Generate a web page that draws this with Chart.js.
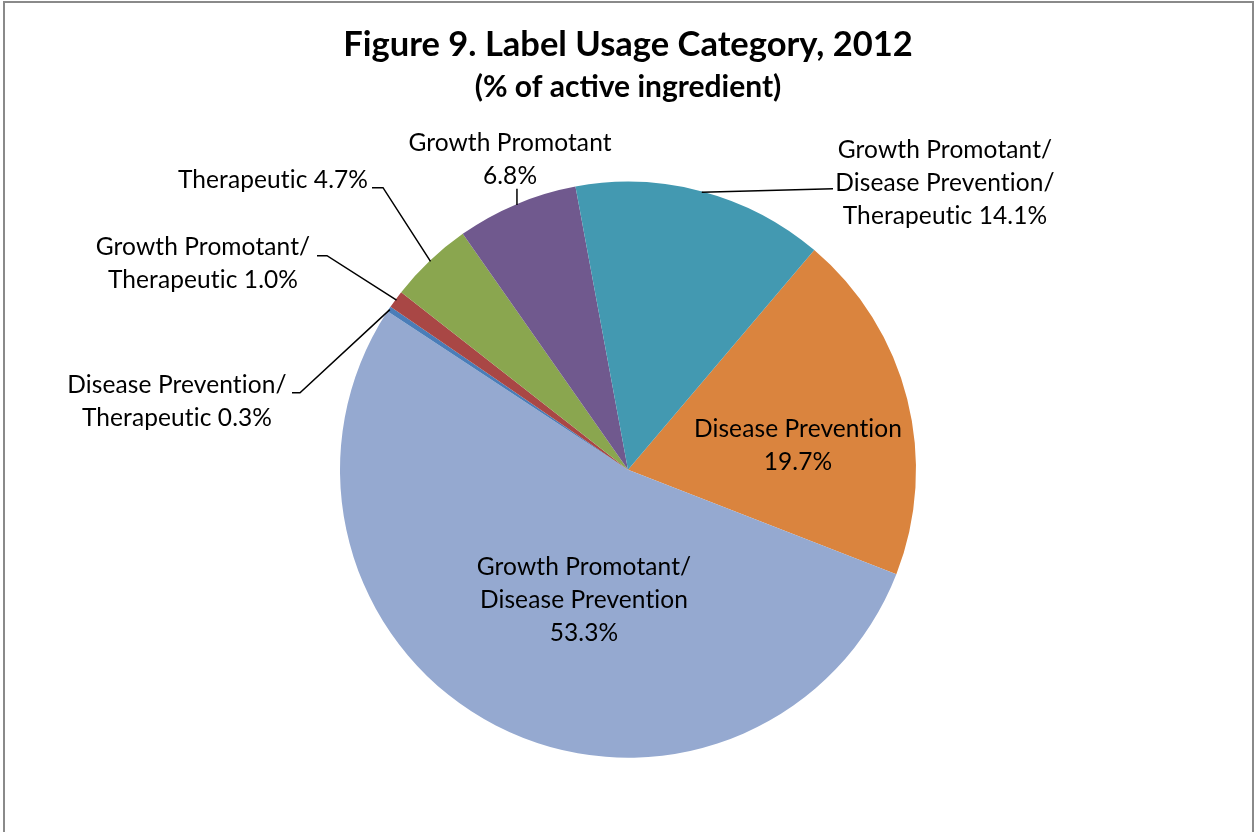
<!DOCTYPE html>
<html>
<head>
<meta charset="utf-8">
<title>Label Usage Category, 2012</title>
<script src="https://cdn.jsdelivr.net/npm/chart.js@4.4.1/dist/chart.umd.min.js"></script>
<style>
  html, body { margin: 0; padding: 0; background: #fff; overflow: hidden; }
  #frame {
    position: absolute; left: 3px; top: 1px; width: 1251px; height: 880px;
    border: 2px solid #8a8a8a; box-sizing: border-box;
  }
  #chart { position: absolute; left: 0; top: 0; }
</style>
</head>
<body>
<div id="frame"></div>
<canvas id="chart" width="1254" height="832"></canvas>
<script>
// ─── Data ─── //
const categories = [
  'Disease Prevention',
  'Growth Promotant/Disease Prevention',
  'Disease Prevention/Therapeutic',
  'Growth Promotant/Therapeutic',
  'Therapeutic',
  'Growth Promotant',
  'Growth Promotant/Disease Prevention/Therapeutic',
];
const shares = [19.7, 53.3, 0.3, 1.0, 4.7, 6.8, 14.1];
const sliceColors = ['#da843e', '#95a9d0', '#4a7db8', '#a94745', '#8aa64f', '#70598e', '#4399b1'];

const FONT = 'Lato, "Open Sans", sans-serif';
const LINE_GAP = 33;

// Label placement, in px relative to the pie centre.
// x = text centre, y = first line centre; leader = points after the arc midpoint
// (null x means "straight up/down from the arc point").
const labelLayout = [
  { x: 170,  y: -41,  ownLine: true },
  { x: -44,  y: 97,   ownLine: true },
  { x: -451, y: -85,  ownLine: false, leader: [[-328, -77], [-336, -77]] },
  { x: -425, y: -223, ownLine: false, leader: [[-301, -214], [-311, -214]] },
  { x: -355, y: -290, ownLine: false, leader: [[-245, -282], [-256, -282]] },
  { x: -118, y: -327, ownLine: true,  leader: [[null, -281]] },
  { x: 317,  y: -320, ownLine: false, leader: [[205, -281]] },
];

// Split a category at its slashes (keeping them) and attach the value
function labelLines(i) {
  const parts = categories[i].split('/').map((p, k, arr) => k < arr.length - 1 ? p + '/' : p);
  const value = shares[i].toFixed(1) + '%';
  if (labelLayout[i].ownLine) return [...parts, value];
  parts[parts.length - 1] += ' ' + value;
  return parts;
}

// ─── Callout labels + leader lines ─── //
const calloutPlugin = {
  id: 'callouts',
  afterDatasetsDraw(chart) {
    const ctx = chart.ctx;
    const arcs = chart.getDatasetMeta(0).data;
    ctx.save();
    ctx.font = `24.5px ${FONT}`;
    ctx.letterSpacing = '0.1px'; // keeps "ti" from turning into a ligature
    ctx.fillStyle = '#000';
    ctx.strokeStyle = '#000';
    ctx.lineWidth = 1.5;
    ctx.textAlign = 'center';
    ctx.textBaseline = 'middle';
    arcs.forEach((arc, i) => {
      const spec = labelLayout[i];
      const { x: cx, y: cy, startAngle, endAngle, outerRadius } =
        arc.getProps(['x', 'y', 'startAngle', 'endAngle', 'outerRadius'], true);
      if (spec.leader) {
        const mid = (startAngle + endAngle) / 2;
        const px = cx + Math.cos(mid) * (outerRadius - 1);
        const py = cy + Math.sin(mid) * (outerRadius - 1);
        ctx.beginPath();
        ctx.moveTo(px, py);
        spec.leader.forEach(([dx, dy]) => ctx.lineTo(dx === null ? px : cx + dx, cy + dy));
        ctx.stroke();
      }
      labelLines(i).forEach((line, k) => {
        ctx.fillText(line, cx + spec.x, cy + spec.y + k * LINE_GAP);
      });
    });
    ctx.restore();
  }
};

new Chart(document.getElementById('chart'), {
  type: 'pie',
  data: {
    labels: categories,
    datasets: [{
      data: shares,
      backgroundColor: sliceColors,
      borderWidth: 0,
    }]
  },
  options: {
    responsive: false,
    animation: false,
    rotation: 40.3,
    layout: { padding: { top: 0, left: 340, right: 338, bottom: 74 } },
    plugins: {
      legend: { display: false },
      tooltip: { enabled: false },
      title: {
        display: true,
        text: 'Figure 9. Label Usage Category, 2012',
        color: '#000',
        font: { family: FONT, size: 34.5, weight: 'bold' },
        padding: { top: 24, bottom: 0 }
      },
      subtitle: {
        display: true,
        text: '(% of active ingredient)',
        color: '#000',
        font: { family: FONT, size: 30, weight: 'bold' },
        padding: { top: 4, bottom: 76 }
      }
    }
  },
  plugins: [calloutPlugin]
});
</script>
</body>
</html>
